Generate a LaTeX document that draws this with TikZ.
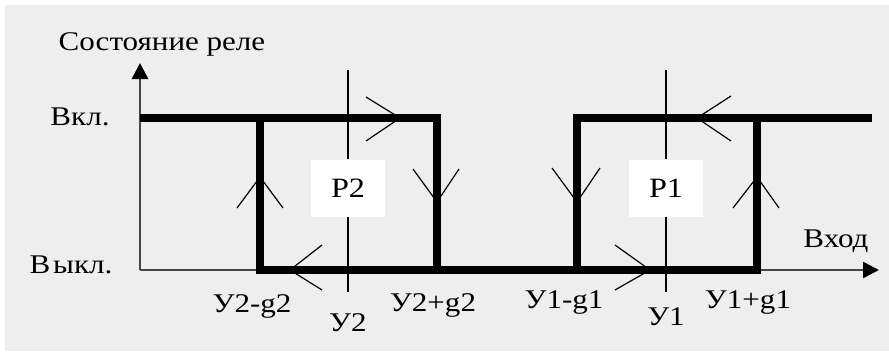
\documentclass[tikz,border=0pt]{standalone}
\usepackage{fontspec}
\setmainfont[FakeStretch=1.15]{Liberation Serif}
\usetikzlibrary{arrows.meta}
\definecolor{bg}{HTML}{EEEEEE}
\definecolor{axisc}{HTML}{454545}
\tikzset{
  thickline/.style={line width=8pt, line join=miter, line cap=butt},
  axisline/.style={axisc, line width=2.5pt, -{Triangle[length=16pt,width=16pt,color=black]}},
  chev/.style={line width=1.2pt, line join=miter},
  guide/.style={line width=1.3pt},
  lbl/.style={font=\fontsize{27}{30}\selectfont, inner sep=0pt, anchor=base},
  pbox/.style={fill=white, minimum width=74pt, minimum height=57pt, inner sep=0pt, font=\fontsize{28}{30}\selectfont}
}
\begin{document}
\begin{tikzpicture}[x=1pt,y=-1pt]
\fill[white] (0,0) rectangle (889,351);
\fill[bg] (5,5) rectangle (889,351);
\useasboundingbox (0,0) rectangle (889,351);

% axes
\coordinate (O) at (140,270);
\coordinate (ytip) at (140,63);
\coordinate (xtip) at (879,270);
\draw[axisline] (O) -- (ytip);
\draw[axisline] (O) -- (xtip);

% hysteresis loops
\coordinate (a1) at (140,118);
\coordinate (a2) at (437,118);
\coordinate (a3) at (437,270);
\coordinate (b1) at (260,118);
\coordinate (b2) at (260,270);
\coordinate (b3) at (757,270);
\coordinate (b4) at (757,118);
\coordinate (c1) at (577,270);
\coordinate (c2) at (577,118);
\coordinate (c3) at (872,118);
\draw[thickline] (a1) -- (a2) -- (a3);
\draw[thickline] (b1) -- (b2) -- (b3) -- (b4);
\draw[thickline] (c1) -- (c2) -- (c3);

% boxes
\node[pbox] (P2) at (348,188) {P2};
\node[pbox] (P1) at (666,188) {P1};

% guide lines
\coordinate (g2t) at (348,70);
\coordinate (g2b) at (348,292);
\coordinate (g1t) at (666,70);
\coordinate (g1b) at (666,292);
\draw[guide] (g2t) -- (P2.north);
\draw[guide] (P2.south) -- (g2b);
\draw[guide] (g1t) -- (P1.north);
\draw[guide] (P1.south) -- (g1b);

% chevrons
\draw[chev] (366,97) -- (400,118) -- (366,141);
\draw[chev] (731,96) -- (697,118) -- (731,141);
\draw[chev] (322,245) -- (290,270) -- (322,290);
\draw[chev] (615,245) -- (650,270) -- (615,290);
\draw[chev] (237,208) -- (260,177) -- (283,208);
\draw[chev] (413,169) -- (437,202) -- (459,169);
\draw[chev] (552,168) -- (577,202) -- (600,168);
\draw[chev] (733,208) -- (757,177) -- (779,208);

% labels
\node[lbl] (ylab) at (162,50) {Состояние реле};
\node[lbl] (on) at (80,125) {Вкл.};
\node[lbl] (off) at (71,273) {В\hspace{3pt}ыкл.};
\node[lbl] (l1) at (252,312) {У2-g2};
\node[lbl] (l2) at (348,331) {У2};
\node[lbl] (l3) at (433,311) {У2+g2};
\node[lbl] (l4) at (564,308) {У1-g1};
\node[lbl] (l5) at (666,325) {У1};
\node[lbl] (l6) at (748,308) {У1+g1};
\node[lbl] (xlab) at (836,247) {Вход};
\end{tikzpicture}
\end{document}
